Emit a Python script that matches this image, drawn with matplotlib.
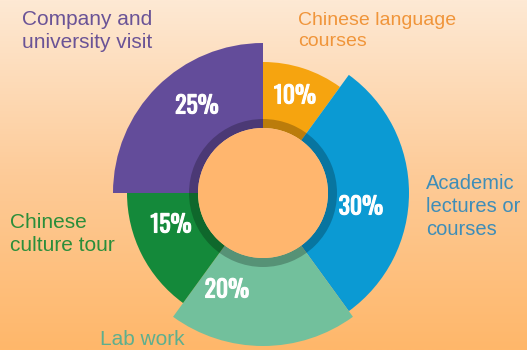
import numpy as np
import matplotlib
matplotlib.use("Agg")
from matplotlib import pyplot as plt
from matplotlib import patheffects as pe
from matplotlib.patches import Wedge, Circle
from matplotlib.colors import LinearSegmentedColormap

categories = [
    "Chinese language\ncourses",
    "Academic\nlectures or\ncourses",
    "Lab work",
    "Chinese\nculture tour",
    "Company and\nuniversity visit",
]
shares = [10, 30, 20, 15, 25]
pct_labels = ["10%", "30%", "20%", "15%", "25%"]

# styling
colors = ["#F6A40F", "#0B9AD3", "#72C09C", "#14893A", "#634C9A"]
text_colors = ["#F0953A", "#3E8DB8", "#5DAF8E", "#2A8E3A", "#6A5396"]
outer_r = [131, 146, 153, 136, 150]
inner_r = 65
W, H = 527, 350
cx, cy = 263, H - 193

# label positions in pixel coords (x left, y top of text)
cat_pos = [(298, 12), (426, 174), (100, 330), (10, 213), (22, 10)]
cat_size = [14, 14.5, 15, 15, 15]
pct_pos = [(295, 96), (361, 207), (227, 290), (171, 225), (197, 106)]

fig = plt.figure(figsize=(W / 100, H / 100), dpi=100)
ax = fig.add_axes([0, 0, 1, 1])
ax.set_xlim(0, W)
ax.set_ylim(0, H)
ax.set_aspect("equal")
ax.axis("off")

# background gradient
bg = LinearSegmentedColormap.from_list("bg", ["#FFB76A", "#FDCB98", "#FEE9D4"])
grad = np.linspace(0, 1, 256).reshape(-1, 1)
ax.imshow(grad, cmap=bg, extent=[0, W, 0, H], origin="lower", aspect="auto", zorder=0)

start = 90.0
for share, col, r in zip(shares, colors, outer_r):
    t2 = start
    t1 = start - share * 3.6
    ax.add_patch(Wedge((cx, cy), r, t1, t2, width=r - inner_r, facecolor=col,
                       edgecolor="none", zorder=2))
    start = t1

# darker inner ring
ax.add_patch(Wedge((cx, cy), inner_r + 9, 0, 360, width=9, facecolor="black",
                   alpha=0.24, edgecolor="none", zorder=3))
ax.add_patch(Circle((cx, cy), inner_r, facecolor="#FFB66E", edgecolor="none", zorder=3))

sans = ["Liberation Sans", "DejaVu Sans"]
narrow = ["Oswald", "Roboto Condensed", "Liberation Sans"]
for lab, col, fs, (x, y) in zip(categories, text_colors, cat_size, cat_pos):
    ax.text(x, H - y, lab, color=col, fontsize=fs, family=sans, ha="left", va="top",
            linespacing=1.28, zorder=5)

for lab, (x, y) in zip(pct_labels, pct_pos):
    ax.text(x, H - y, lab, color="white", fontsize=17, family=narrow, weight="bold",
            ha="center", va="center", zorder=5,
            path_effects=[pe.withStroke(linewidth=0.8, foreground="white")])

fig.savefig("out.png", dpi=100)
